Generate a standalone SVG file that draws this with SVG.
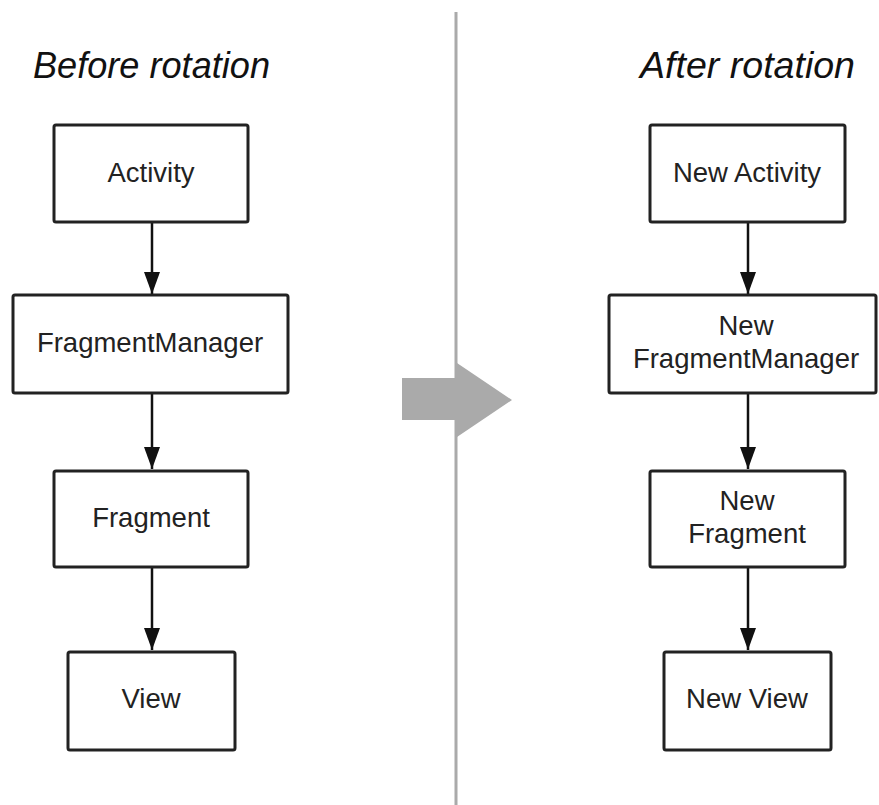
<svg xmlns="http://www.w3.org/2000/svg" width="879" height="805" viewBox="0 0 879 805">
<defs>
<style>
.box{fill:#fff;stroke:#222;stroke-width:3}
.lbl{font-family:"Liberation Sans",Arial,sans-serif;font-size:27.5px;fill:#222;text-anchor:middle}
.ttl{font-family:"Liberation Sans",Arial,sans-serif;font-size:36px;font-style:italic;fill:#111}
.conn{stroke:#111;stroke-width:2.5;fill:none}
</style>
<marker id="ah" markerUnits="userSpaceOnUse" markerWidth="24" markerHeight="18" refX="22" refY="8" orient="auto">
<path d="M0,0 L22,8 L0,16 Z" fill="#111"/>
</marker>
</defs>
<rect width="879" height="805" fill="#fff"/>
<line x1="456" y1="12" x2="456" y2="805" stroke="#aaa" stroke-width="3"/>
<polygon points="402,378 457,378 457,363 512,400 457,437 457,420 402,420" fill="#aaa"/>
<text class="ttl" x="33" y="78" textLength="237" lengthAdjust="spacingAndGlyphs">Before rotation</text>
<text class="ttl" x="640" y="78" textLength="215" lengthAdjust="spacingAndGlyphs">After rotation</text>
<g id="connectors">
<line class="conn" x1="152" y1="222" x2="152" y2="294" marker-end="url(#ah)"/>
<line class="conn" x1="152" y1="393" x2="152" y2="469" marker-end="url(#ah)"/>
<line class="conn" x1="152" y1="567" x2="152" y2="650" marker-end="url(#ah)"/>
<line class="conn" x1="748" y1="222" x2="748" y2="294" marker-end="url(#ah)"/>
<line class="conn" x1="748" y1="393" x2="748" y2="469" marker-end="url(#ah)"/>
<line class="conn" x1="748" y1="567" x2="748" y2="650" marker-end="url(#ah)"/>
</g>
<g id="activity"><rect class="box" x="54" y="125" width="194" height="97" rx="2"/><text class="lbl" x="151" y="182">Activity</text></g>
<g id="fragmentmanager"><rect class="box" x="13" y="295" width="275" height="98" rx="2"/><text class="lbl" x="150" y="352">FragmentManager</text></g>
<g id="fragment"><rect class="box" x="54" y="471" width="194" height="96" rx="2"/><text class="lbl" x="151" y="527">Fragment</text></g>
<g id="view"><rect class="box" x="68" y="652" width="167" height="98" rx="2"/><text class="lbl" x="151" y="708">View</text></g>
<g id="new-activity"><rect class="box" x="650" y="125" width="195" height="97" rx="2"/><text class="lbl" x="747" y="182">New Activity</text></g>
<g id="new-fragmentmanager"><rect class="box" x="609" y="295" width="267" height="98" rx="2"/><text class="lbl" x="746" y="335">New</text><text class="lbl" x="746" y="368">FragmentManager</text></g>
<g id="new-fragment"><rect class="box" x="650" y="471" width="195" height="96" rx="2"/><text class="lbl" x="747" y="510">New</text><text class="lbl" x="747" y="543">Fragment</text></g>
<g id="new-view"><rect class="box" x="664" y="652" width="167" height="98" rx="2"/><text class="lbl" x="747" y="708">New View</text></g>
</svg>
